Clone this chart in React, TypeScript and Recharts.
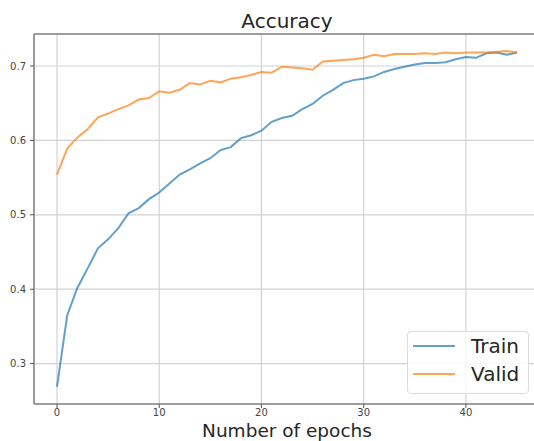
import { LineChart, Line, XAxis, YAxis, CartesianGrid, Legend, Label, ReferenceLine } from 'recharts'

const epochs = [
  0, 1, 2, 3, 4, 5, 6, 7, 8, 9, 10, 11, 12, 13, 14, 15, 16, 17, 18, 19, 20, 21, 22,
  23, 24, 25, 26, 27, 28, 29, 30, 31, 32, 33, 34, 35, 36, 37, 38, 39, 40, 41, 42, 43, 44, 45,
]

const trainAcc = [
  0.269, 0.365, 0.402, 0.428, 0.455, 0.467, 0.482, 0.502, 0.509, 0.521, 0.53, 0.542,
  0.554, 0.561, 0.569, 0.576, 0.587, 0.591, 0.603, 0.607, 0.613, 0.625, 0.63, 0.633,
  0.642, 0.649, 0.66, 0.668, 0.677, 0.681, 0.683, 0.686, 0.692, 0.696, 0.699, 0.702,
  0.704, 0.704, 0.705, 0.709, 0.712, 0.711, 0.717, 0.718, 0.715, 0.718,
]

const validAcc = [
  0.554, 0.589, 0.604, 0.615, 0.631, 0.636, 0.642, 0.647, 0.655, 0.657, 0.666, 0.664,
  0.668, 0.677, 0.675, 0.68, 0.678, 0.683, 0.685, 0.688, 0.692, 0.691, 0.699, 0.698,
  0.697, 0.695, 0.706, 0.707, 0.708, 0.709, 0.711, 0.715, 0.713, 0.716, 0.716, 0.716,
  0.717, 0.716, 0.718, 0.717, 0.718, 0.718, 0.718, 0.719, 0.72, 0.718,
]

const xTicks = [0, 10, 20, 30, 40]
const yTicks = [0.3, 0.4, 0.5, 0.6, 0.7]
const yTop = 0.743

const data = epochs.map((e, i) => ({ epoch: e, train: trainAcc[i], valid: validAcc[i] }))

const font = '"DejaVu Sans", sans-serif'
const tickStyle = { fontSize: 10, fill: '#444', fontFamily: font }

const LegendBox = ({ payload }: any) => (
  <div
    style={{
      width: 120,
      paddingBottom: 5,
      border: '1px solid #dcdcdc',
      borderRadius: 4,
      background: 'rgba(255,255,255,0.8)',
      fontFamily: font,
      fontSize: 20,
      color: '#262626',
    }}
  >
    {(payload || []).map((p: any) => (
      <div key={p.value} style={{ display: 'flex', alignItems: 'center', height: 28, paddingLeft: 5 }}>
        <span style={{ display: 'inline-block', width: 42, height: 2, background: p.color, opacity: 0.7 }} />
        <span style={{ marginLeft: 16, lineHeight: '28px' }}>{p.value}</span>
      </div>
    ))}
  </div>
)

export default function App() {
  return (
    <div style={{ position: 'fixed', left: 0, top: 0, width: 534, height: 441, overflow: 'hidden', background: '#fff' }}>
      <div
        style={{
          position: 'absolute',
          left: 187,
          top: 11,
          width: 200,
          textAlign: 'center',
          fontFamily: font,
          fontSize: 20,
          lineHeight: '20px',
          color: '#262626',
          zIndex: 1,
        }}
      >
        Accuracy
      </div>
      <LineChart width={545} height={441} data={data} margin={{ top: 34, right: 5, bottom: 0, left: 0 }}>
        <CartesianGrid stroke="#d2d2d2" strokeWidth={1.2} />
        <XAxis
          dataKey="epoch"
          type="number"
          domain={[-2.25, 47.25]}
          ticks={xTicks}
          allowDataOverflow
          height={37}
          tickSize={4}
          tickMargin={1}
          tick={tickStyle}
          stroke="#555"
        >
          <Label
            value="Number of epochs"
            position="insideBottom"
            offset={4.5}
            style={{ fontSize: 18.5, fill: '#262626', fontFamily: font }}
          />
        </XAxis>
        <YAxis
          type="number"
          domain={[0.2457, yTop]}
          ticks={yTicks}
          allowDataOverflow
          width={34}
          tickSize={4}
          tickMargin={4}
          tick={tickStyle}
          stroke="#555"
        />
        <ReferenceLine y={yTop} stroke="#555" strokeWidth={1} />
        <Legend
          layout="horizontal"
          verticalAlign="middle"
          align="center"
          content={<LegendBox />}
          wrapperStyle={{ left: 407, top: 331, width: 122 }}
        />
        <Line
          name="Train"
          dataKey="train"
          stroke="#1f77b4"
          strokeOpacity={0.7}
          strokeWidth={2}
          dot={false}
          isAnimationActive={false}
        />
        <Line
          name="Valid"
          dataKey="valid"
          stroke="#ff7f0e"
          strokeOpacity={0.7}
          strokeWidth={2}
          dot={false}
          isAnimationActive={false}
        />
      </LineChart>
    </div>
  )
}
